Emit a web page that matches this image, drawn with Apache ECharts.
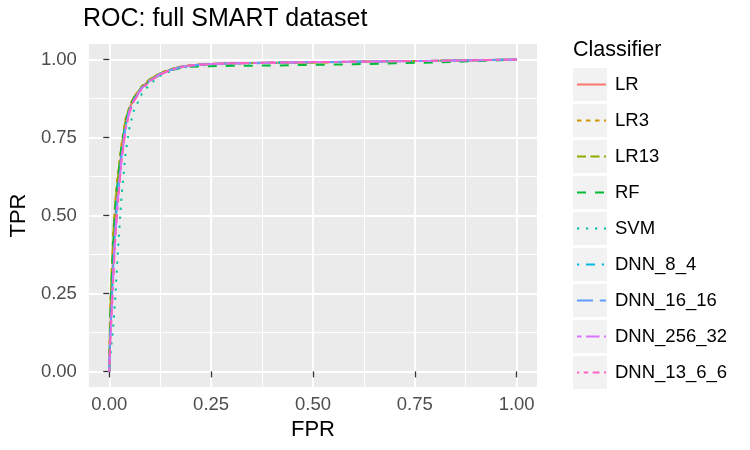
<!DOCTYPE html>
<html>
<head>
<meta charset="utf-8">
<script src="https://cdn.jsdelivr.net/npm/echarts@6/dist/echarts.min.js"></script>
<style>
  html, body { margin: 0; padding: 0; background: #fff; }
  #chart { width: 750px; height: 450px; }
</style>
</head>
<body>
<div id="chart"></div>
<script>
// classifiers, in legend order
const classifiers = ['LR', 'LR3', 'LR13', 'RF', 'SVM', 'DNN_8_4', 'DNN_16_16', 'DNN_256_32', 'DNN_13_6_6']
const colors = ['#F8766D', '#D39200', '#93AA00', '#00BA38', '#00C19F', '#00B9E3', '#619CFF', '#DB72FB', '#FF61C3']
// ggplot linetypes: solid, 22, 42, 44, 13, 1343, 73, 2262, 12223242
const dashes = [
  'solid',
  [4.5, 4.5],
  [9, 4.5],
  [9, 9],
  [2.2, 6.8],
  [2.2, 6.8, 9, 6.8],
  [16, 6.8],
  [4.5, 4.5, 13.5, 4.5],
  [2.2, 4.5, 4.5, 4.5, 6.8, 4.5, 9, 4.5],
]

const fpr = [0, 0.002, 0.005, 0.01, 0.015, 0.02, 0.03, 0.04, 0.05, 0.06, 0.08, 0.1, 0.125, 0.15, 0.175, 0.2, 0.25, 0.3, 0.4, 0.5, 0.6, 0.7, 0.8, 0.9, 1.0]

const tprLR       = [0, 0.12, 0.24, 0.39, 0.50, 0.58, 0.71, 0.80, 0.845, 0.875, 0.912, 0.935, 0.955, 0.968, 0.977, 0.982, 0.986, 0.988, 0.990, 0.991, 0.993, 0.995, 0.996, 0.998, 1]
const tprLR3      = [0, 0.20, 0.30, 0.45, 0.55, 0.62, 0.73, 0.81, 0.85, 0.88, 0.915, 0.938, 0.957, 0.969, 0.977, 0.982, 0.986, 0.988, 0.990, 0.991, 0.993, 0.995, 0.996, 0.998, 1]
const tprLR13     = [0, 0.18, 0.29, 0.44, 0.54, 0.61, 0.72, 0.805, 0.848, 0.878, 0.913, 0.937, 0.956, 0.969, 0.977, 0.982, 0.986, 0.988, 0.990, 0.991, 0.993, 0.995, 0.996, 0.998, 1]
const tprRF       = [0, 0.15, 0.27, 0.42, 0.53, 0.60, 0.72, 0.80, 0.845, 0.875, 0.91, 0.932, 0.952, 0.965, 0.973, 0.977, 0.979, 0.980, 0.981, 0.983, 0.985, 0.988, 0.991, 0.995, 1]
const tprSVM      = [0, 0.04, 0.08, 0.15, 0.24, 0.36, 0.56, 0.70, 0.785, 0.835, 0.89, 0.922, 0.948, 0.963, 0.973, 0.979, 0.984, 0.987, 0.989, 0.991, 0.993, 0.995, 0.996, 0.998, 1]
const tprDNN84    = [0, 0.10, 0.20, 0.35, 0.47, 0.56, 0.70, 0.79, 0.84, 0.872, 0.91, 0.934, 0.954, 0.967, 0.976, 0.981, 0.986, 0.988, 0.990, 0.992, 0.993, 0.995, 0.996, 0.998, 1]
const tprDNN1616  = [0, 0.10, 0.19, 0.34, 0.46, 0.55, 0.69, 0.785, 0.838, 0.87, 0.91, 0.933, 0.954, 0.967, 0.976, 0.981, 0.986, 0.988, 0.990, 0.992, 0.993, 0.995, 0.996, 0.998, 1]
const tprDNN25632 = [0, 0.09, 0.17, 0.31, 0.44, 0.53, 0.68, 0.78, 0.835, 0.868, 0.908, 0.932, 0.953, 0.966, 0.976, 0.981, 0.986, 0.988, 0.990, 0.992, 0.993, 0.995, 0.996, 0.998, 1]
const tprDNN1366  = [0, 0.08, 0.16, 0.30, 0.43, 0.52, 0.675, 0.775, 0.832, 0.866, 0.906, 0.931, 0.952, 0.966, 0.975, 0.981, 0.986, 0.988, 0.990, 0.992, 0.993, 0.995, 0.996, 0.998, 1]

const tprs = [tprLR, tprLR3, tprLR13, tprRF, tprSVM, tprDNN84, tprDNN1616, tprDNN25632, tprDNN1366]

const majorTicks = [0, 0.25, 0.5, 0.75, 1]
const minorTicks = [0.125, 0.375, 0.625, 0.875]

const FONT = '"Liberation Sans", Arial, sans-serif'

function mainAxis(name, isY) {
  return {
    type: 'value',
    min: -0.05,
    max: 1.05,
    name: name,
    nameLocation: 'middle',
    nameGap: isY ? 58 : 31,
    nameTextStyle: { fontFamily: FONT, fontSize: 22, color: '#000' },
    axisLine: { show: false },
    axisTick: { show: true, length: 6, customValues: majorTicks, lineStyle: { color: '#333', width: 1.3 } },
    axisLabel: {
      customValues: majorTicks,
      margin: isY ? 12 : 8,
      fontFamily: FONT, fontSize: 18.5, color: '#4D4D4D',
      formatter: (v) => v.toFixed(2),
    },
    splitLine: { show: true, lineStyle: { color: '#fff', width: 2 } },
  }
}

function minorAxis() {
  return {
    type: 'value',
    min: -0.05,
    max: 1.05,
    axisLine: { show: false },
    axisTick: { show: false, customValues: minorTicks },
    axisLabel: { show: false },
    splitLine: { show: true, lineStyle: { color: '#fff', width: 1 } },
  }
}

const series = classifiers.map((name, k) => ({
  name: name,
  type: 'line',
  data: fpr.map((x, i) => [x, tprs[k][i]]),
  symbol: 'none',
  showSymbol: false,
  lineStyle: { color: colors[k], width: 2, type: dashes[k] },
  itemStyle: { color: colors[k] },
  z: 3,
}))

// grey key backgrounds for the legend
const keyBoxes = classifiers.map((c, i) => ({
  type: 'rect',
  shape: { x: 573, y: 68 + 36 * i, width: 34, height: 33 },
  style: { fill: '#F2F2F2' },
  z: 0,
}))

const chart = echarts.init(document.getElementById('chart'), null, { renderer: 'canvas' })
chart.setOption({
  animation: false,
  backgroundColor: '#fff',
  title: {
    text: 'ROC: full SMART dataset',
    left: 83,
    top: 7,
    padding: 0,
    textStyle: { fontFamily: FONT, fontSize: 25, fontWeight: 'normal', color: '#000' },
  },
  grid: {
    left: 86, right: 213, top: 44, bottom: 63,
    show: true, backgroundColor: '#EBEBEB', borderWidth: 0,
  },
  xAxis: [mainAxis('FPR', false), minorAxis()],
  yAxis: [mainAxis('TPR', true), minorAxis()],
  legend: {
    data: classifiers,
    orient: 'vertical',
    left: 576,
    top: 75,
    padding: 0,
    itemWidth: 29,
    itemHeight: 14,
    itemGap: 17,
    itemStyle: { opacity: 0 },
    lineStyle: { width: 2 },
    textStyle: { fontFamily: FONT, fontSize: 18.5, color: '#000', padding: [0, 0, 0, 4] },
  },
  graphic: [
    ...keyBoxes,
    {
      type: 'text',
      left: 573,
      top: 39,
      style: { text: 'Classifier', fontFamily: FONT, fontSize: 21.5, fill: '#000' },
    },
  ],
  series: series,
})
</script>
</body>
</html>
